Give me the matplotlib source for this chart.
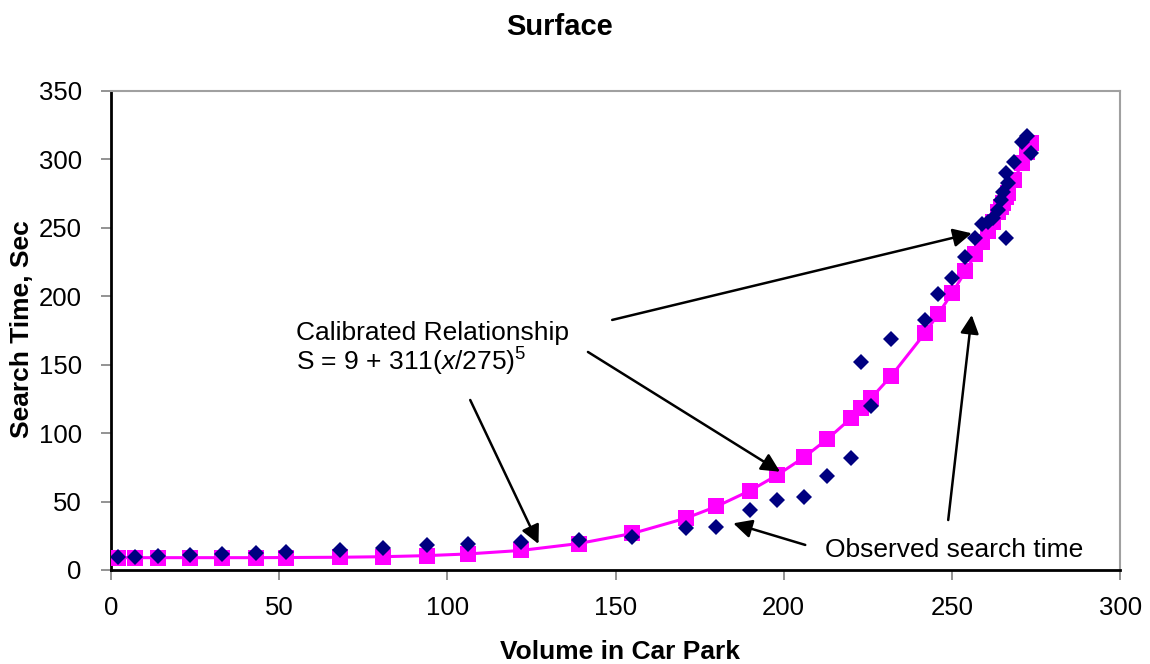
import matplotlib
matplotlib.use("Agg")
import matplotlib.pyplot as plt

plt.rcParams['font.family'] = ['Liberation Sans', 'DejaVu Sans']
plt.rcParams['mathtext.fontset'] = 'custom'
plt.rcParams['mathtext.rm'] = 'Liberation Sans'
plt.rcParams['mathtext.it'] = 'Liberation Sans:italic'

# Volume in car park (x) for each observation
volume = [2, 7, 14, 23.5, 33, 43, 52, 68, 81, 94, 106, 122, 139, 155, 171, 180,
          190, 198, 206, 213, 220, 223, 226, 232, 242, 246, 250, 254, 257, 259,
          260.8, 262.3, 263.7, 264.6, 265.2, 266.1, 266.1, 266.7, 268.5, 270.9,
          272.4, 273.6]
# Observed search time (sec)
observed = [9.5, 9.5, 10, 11, 11.7, 12.4, 13, 14.6, 16, 18.3, 19, 20.5, 22, 24,
            30.7, 31.4, 44, 51, 53, 69, 82, 152, 120, 169, 183, 202, 213, 229,
            242.6, 253, 254, 257, 263, 270, 276, 290, 242.6, 283, 298, 313, 317,
            305]
# Calibrated relationship values (sec)
calibrated = [9.0, 9.0, 9.0, 9.0, 9.0, 9.0, 9.1, 9.3, 9.7, 10.5, 11.7, 14.3,
              19.3, 26.7, 37.9, 46.4, 58.0, 69.2, 82.3, 95.7, 110.9, 118.0,
              125.6, 141.9, 173.1, 187.3, 202.1, 218.1, 230.6, 239.5, 247.6,
              254.5, 261.2, 265.5, 268.4, 272.8, 272.8, 275.8, 285.0, 297.5,
              305.5, 312.1]

x_ticks = [0, 50, 100, 150, 200, 250, 300]
y_ticks = [0, 50, 100, 150, 200, 250, 300, 350]

fig = plt.figure(figsize=(11.5, 6.64), dpi=100)
ax = fig.add_axes([0.0965, 0.1416, 0.8775, 0.7214])

ax.plot(volume, calibrated, color='#FF00FF', lw=2.2, marker='s', markersize=11,
        markeredgewidth=0, zorder=3)
ax.plot(volume, observed, linestyle='none', color='#000080', marker='D',
        markersize=8.6, markeredgewidth=0, zorder=4)

ax.set_xlim(0, 300)
ax.set_ylim(0, 350)
ax.set_xticks(x_ticks)
ax.set_yticks(y_ticks)
ax.tick_params(labelsize=18.5, direction='out', length=7, width=1.2,
               color='#808080')
ax.tick_params(axis='x', pad=12)
ax.tick_params(axis='y', pad=14)
for s in ['top', 'right']:
    ax.spines[s].set_color('#A0A0A0')
    ax.spines[s].set_linewidth(1.5)
for s in ['left', 'bottom']:
    ax.spines[s].set_color('black')
    ax.spines[s].set_linewidth(2)

fig.text(0.487, 0.959, 'Surface', ha='center', va='center', fontsize=21,
         fontweight='bold')
fig.text(0.539, 0.018, 'Volume in Car Park', ha='center', va='center',
         fontsize=19, fontweight='bold')
fig.text(0.019, 0.505, 'Search Time, Sec', ha='center', va='center',
         fontsize=19, fontweight='bold', rotation=90)

ax.text(55.0, 168.0, 'Calibrated Relationship', fontsize=19, va='baseline',
        ha='left')
ax.text(55.0, 145.4, r'S = 9 + 311($\mathit{x}$/275)$^{5}$', fontsize=19,
        va='baseline', ha='left')
ax.text(212.3, 9.5, 'Observed search time', fontsize=19, va='baseline',
        ha='left')

arrow = dict(arrowstyle='-|>', mutation_scale=28, lw=1.8, color='black',
             shrinkA=0, shrinkB=0)
ax.annotate('', xy=(255.9, 246.0), xytext=(149.0, 182.7), arrowprops=arrow)
ax.annotate('', xy=(198.9, 71.8), xytext=(141.8, 159.3), arrowprops=arrow)
ax.annotate('', xy=(127.1, 19.0), xytext=(106.8, 124.2), arrowprops=arrow)
ax.annotate('', xy=(185.0, 34.1), xytext=(206.4, 18.3), arrowprops=arrow)
ax.annotate('', xy=(255.9, 186.3), xytext=(248.9, 36.5), arrowprops=arrow)

fig.savefig('out.png', dpi=100)
